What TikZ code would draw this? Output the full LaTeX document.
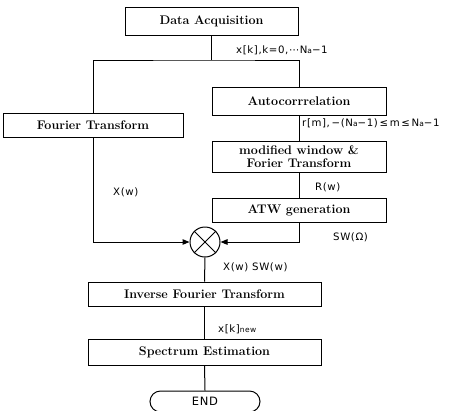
\documentclass[tikz,border=0pt]{standalone}
\usepackage{fontspec}
\newfontfamily\lblfont{DejaVu Sans}[LetterSpace=6]
\usetikzlibrary{arrows.meta,shapes.misc}

\newcommand{\Nsub}{N{\fontsize{7.5}{8}\selectfont a}}

\tikzset{
  blk/.style={draw, rectangle, line width=1pt, inner sep=0pt,
    align=center, font=\bfseries\fontsize{12.5}{13.5}\selectfont},
  lbl/.style={anchor=west, inner sep=0pt, font=\lblfont\fontsize{10.2}{11}\selectfont},
  flow/.style={line width=1pt},
  tip/.style={-{Triangle[length=7pt,width=5.5pt]}},
}

\begin{document}
\begin{tikzpicture}[x=1pt,y=-1pt]
\useasboundingbox (0,0) rectangle (454,410);

% boxes
\node[blk, minimum width=173pt, minimum height=28pt] (acq) at (211.5,21) {Data Acquisition};
\node[blk, minimum width=180pt, minimum height=24pt] (four) at (93,125) {Fourier Transform};
\node[blk, minimum width=174pt, minimum height=28pt] (auto) at (299,101) {Autocorrrelation};
\node[blk, minimum width=174pt, minimum height=31pt] (modwin) at (299,156.5) {modified window \&\\Forier Transform};
\node[blk, minimum width=174pt, minimum height=24pt] (atw) at (299,210) {ATW generation};
\node[draw, circle, line width=1pt, minimum size=30pt, inner sep=0pt] (mult) at (205,242) {};
\node[blk, minimum width=233pt, minimum height=24pt] (ifft) at (204.5,294) {Inverse Fourier Transform};
\node[blk, minimum width=233pt, minimum height=26pt] (spec) at (204.5,352) {Spectrum Estimation};
\node[draw, rounded rectangle, line width=1pt, minimum width=110pt, minimum height=21pt,
  inner sep=0pt, font=\lblfont\fontsize{11.5}{12}\selectfont] (fin) at (205,401.5) {END};

% cross in the multiplier
\draw[flow] (mult.north west) -- (mult.south east);
\draw[flow] (mult.north east) -- (mult.south west);

% connectors
\coordinate (split) at (211.5,60);
\draw[flow] (acq.south) -- (split);
\draw[flow] (four.north) |- (split) -| (auto.north);
\draw[flow] (auto.south) -- (modwin.north);
\draw[flow] (modwin.south) -- (atw.north);
\draw[flow,tip] (four.south) |- (mult.west);
\draw[flow,tip] (atw.south) |- (mult.east);
\draw[flow] (mult.south) -- (ifft.north);
\draw[flow] (ifft.south) -- (spec.north);
\draw[flow] (spec.south) -- (fin.north);

% signal labels
\node[lbl] (lxk) at (236,50) {x[k],k=0,⋯\Nsub−1};
\node[lbl] (lrm) at (302,123) {r[m],\,−(\Nsub−1)\,≤\,m\,≤\,\Nsub−1};
\node[lbl] (lxw) at (113,192) {X(w)};
\node[lbl] (lrw) at (315,187) {R(w)};
\node[lbl] (lsw) at (333,237) {SW(Ω)};
\node[lbl] (lprod) at (223,267) {X(w) SW(w)};
\node[lbl] (lnew) at (218,329) {x[k]{\fontsize{7.5}{8}\selectfont new}};
\end{tikzpicture}
\end{document}
